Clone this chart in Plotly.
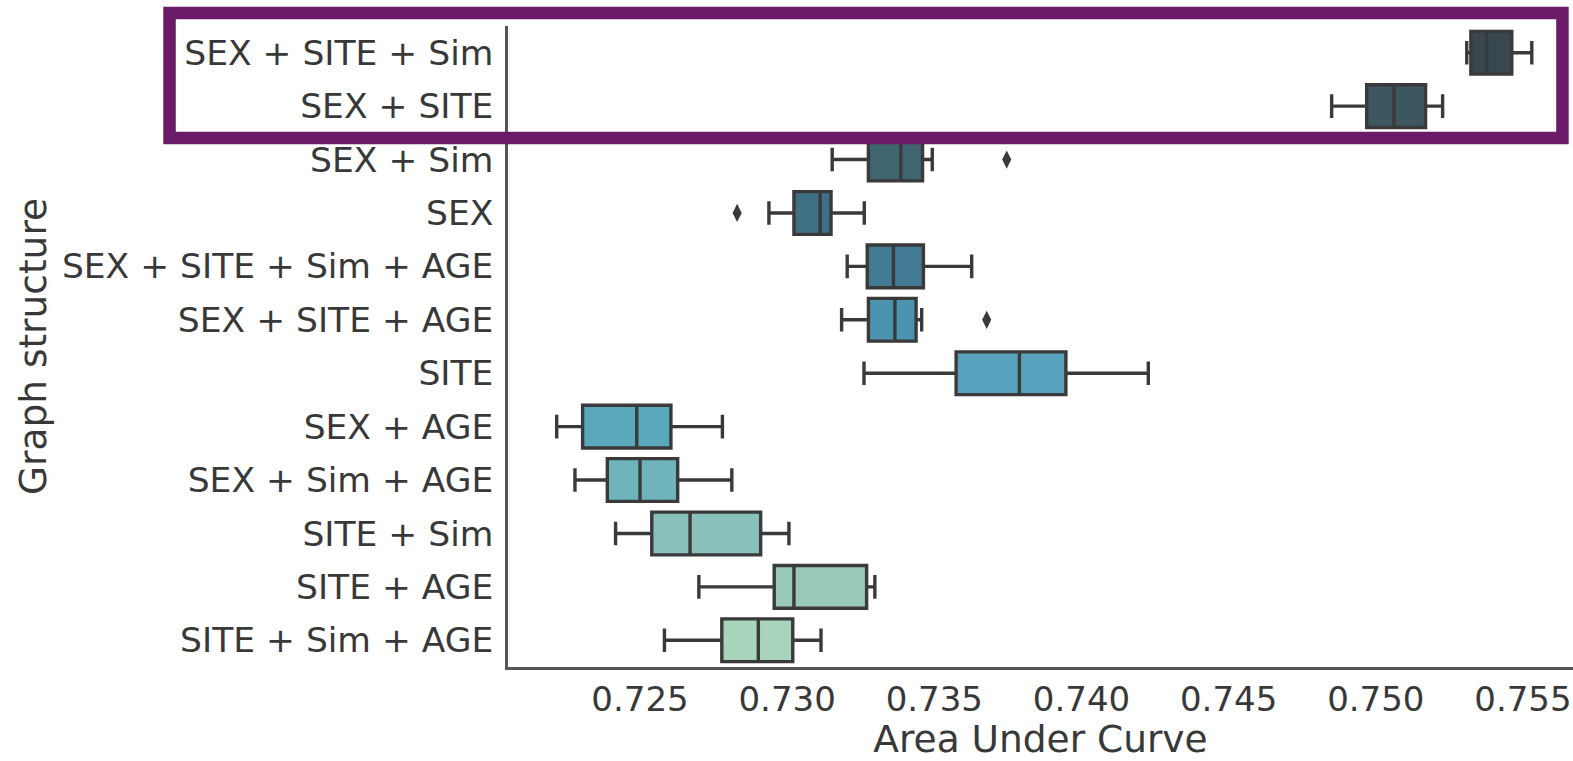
import plotly.graph_objects as go

categories = ["SEX + SITE + Sim", "SEX + SITE", "SEX + Sim", "SEX",
              "SEX + SITE + Sim + AGE", "SEX + SITE + AGE", "SITE",
              "SEX + AGE", "SEX + Sim + AGE", "SITE + Sim", "SITE + AGE",
              "SITE + Sim + AGE"]
lower_whisker = [0.75309, 0.74850, 0.73153, 0.72938, 0.73204, 0.73185, 0.73261,
                 0.72217, 0.72279, 0.72417, 0.72700, 0.72583]
q1_values = [0.75323, 0.74969, 0.73276, 0.73023, 0.73272, 0.73276, 0.73574,
             0.72305, 0.72389, 0.72540, 0.72956, 0.72778]
median_values = [0.75377, 0.75062, 0.73386, 0.73112, 0.73361, 0.73366, 0.73789,
                 0.72489, 0.72500, 0.72670, 0.73023, 0.72902]
q3_values = [0.75462, 0.75169, 0.73460, 0.73149, 0.73463, 0.73438, 0.73947,
             0.72605, 0.72628, 0.72910, 0.73270, 0.73019]
upper_whisker = [0.75530, 0.75227, 0.73493, 0.73262, 0.73627, 0.73457, 0.74227,
                 0.72780, 0.72812, 0.73006, 0.73298, 0.73115]
outlier_categories = ["SEX + Sim", "SEX", "SEX + SITE + AGE"]
outlier_values = [0.73746, 0.72830, 0.73678]
x_ticks = [0.725, 0.730, 0.735, 0.740, 0.745, 0.750, 0.755]

box_colors = ["#38484e", "#3d5660", "#3f6571", "#3f7086", "#417a92", "#4b93ae",
              "#57a3bd", "#5aa8bb", "#6fb4bd", "#88c0bc", "#98c9bb", "#a9d4bc"]
edge = "#3a3a3a"
text_color = "#383838"
font_family = "DejaVu Sans"

fig = go.Figure()
for i, cat in enumerate(categories):
    fig.add_trace(go.Box(
        y=[cat], orientation="h",
        q1=[q1_values[i]], median=[median_values[i]], q3=[q3_values[i]],
        lowerfence=[lower_whisker[i]], upperfence=[upper_whisker[i]],
        fillcolor=box_colors[i], line=dict(color=edge, width=3.4),
        width=0.8, whiskerwidth=0.55, boxpoints=False, showlegend=False,
        hoverinfo="skip"))

fig.add_trace(go.Scatter(
    x=outlier_values, y=outlier_categories, mode="markers",
    marker=dict(symbol="diamond-tall", size=13, color=edge),
    showlegend=False, hoverinfo="skip"))

# highlight frame around the top two rows
fig.add_shape(type="rect", xref="paper", yref="paper",
              x0=-0.3178, x1=0.9901, y0=0.8253, y1=1.0203,
              line=dict(color="#6a1a66", width=12.5), fillcolor="rgba(0,0,0,0)",
              layer="above")

fig.update_layout(
    width=1573, height=761,
    margin=dict(l=508, r=0, t=26, b=94),
    plot_bgcolor="white", paper_bgcolor="white",
    boxmode="overlay",
    font=dict(family=font_family, color=text_color, size=34),
    xaxis=dict(range=[0.720515, 0.75670], tickvals=x_ticks,
               ticktext=[f"{v:.3f}" for v in x_ticks],
               showgrid=False, zeroline=False, showline=True, automargin=False,
               linecolor="#555555", linewidth=2.5, ticks="",
               tickfont=dict(size=34, color=text_color, family=font_family),
               title=dict(text="Area Under Curve", standoff=13,
                          font=dict(size=37.5, color=text_color, family=font_family))),
    yaxis=dict(type="category", categoryorder="array", categoryarray=categories,
               range=[11.5, -0.5], showgrid=False, zeroline=False, showline=True,
               automargin=False,
               linecolor="#555555", linewidth=2.5, ticks="",
               ticklabelstandoff=5,
               tickfont=dict(size=34.5, color=text_color, family=font_family),
               title=dict(text="Graph structure", standoff=4,
                          font=dict(size=37.5, color=text_color, family=font_family))),
)

fig.write_html("out.html", config={"displayModeBar": False},
               post_script="document.body.style.margin='0';document.body.style.overflow='hidden';")
